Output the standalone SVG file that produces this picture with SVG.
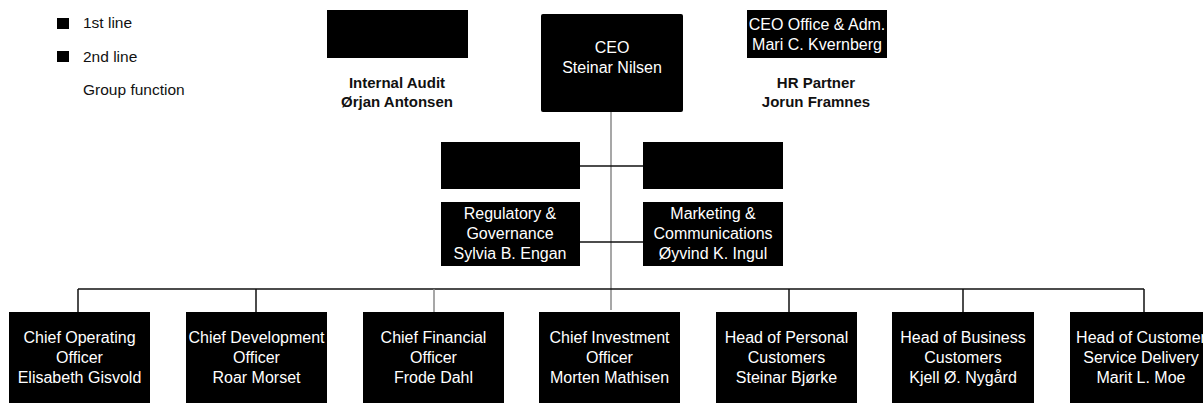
<svg xmlns="http://www.w3.org/2000/svg" width="1203" height="403" viewBox="0 0 1203 403">
<style>
.box{fill:#000}
.wt{font-family:"Liberation Sans",Arial,sans-serif;font-size:16px;fill:#fff;text-anchor:middle}
.bt{font-family:"Liberation Sans",Arial,sans-serif;font-size:15px;font-weight:bold;fill:#111;text-anchor:middle}
.lt{font-family:"Liberation Sans",Arial,sans-serif;font-size:15.5px;fill:#111}
.ln{stroke:#111;stroke-width:1.5;fill:none}
.gl{stroke:#8a8a8a;stroke-width:1.5;fill:none}
</style>
<rect width="1203" height="403" fill="#fff"/>
<g id="legend">
<rect x="57" y="18" width="12" height="11" fill="#000"/>
<text class="lt" x="83" y="28">1st line</text>
<rect x="57" y="51" width="12" height="11" fill="#000"/>
<text class="lt" x="83" y="62">2nd line</text>
<text class="lt" x="83" y="95">Group function</text>
</g>
<g id="connectors">
<line class="gl" x1="611" y1="112" x2="611" y2="310"/>
<line class="ln" x1="580" y1="166" x2="643" y2="166"/>
<line class="ln" x1="580" y1="242" x2="643" y2="242"/>
<line class="ln" x1="78" y1="289" x2="1144" y2="289"/>
<line class="ln" x1="78" y1="289" x2="78" y2="312"/>
<line class="ln" x1="256" y1="289" x2="256" y2="312"/>
<line class="gl" x1="434" y1="289" x2="434" y2="312"/>
<line class="ln" x1="789" y1="289" x2="789" y2="312"/>
<line class="ln" x1="963" y1="289" x2="963" y2="312"/>
<line class="ln" x1="1144" y1="289" x2="1144" y2="312"/>
</g>
<g id="internal-audit">
<rect class="box" x="327" y="10" width="141" height="48"/>
<text class="bt" x="397" y="88">Internal Audit</text>
<text class="bt" x="397" y="107">Ørjan Antonsen</text>
</g>
<g id="ceo">
<rect class="box" x="541" y="14" width="142" height="98" rx="2"/>
<text class="wt" x="612" y="53">CEO</text>
<text class="wt" x="612" y="73">Steinar Nilsen</text>
</g>
<g id="ceo-office">
<rect class="box" x="747" y="10" width="140" height="48"/>
<text class="wt" x="817" y="30">CEO Office &amp; Adm.</text>
<text class="wt" x="817" y="50">Mari C. Kvernberg</text>
<text class="bt" x="816" y="88">HR Partner</text>
<text class="bt" x="816" y="107">Jorun Framnes</text>
</g>
<g id="mid-left-top"><rect class="box" x="441" y="142" width="139" height="47"/></g>
<g id="mid-right-top"><rect class="box" x="643" y="142" width="140" height="47"/></g>
<g id="regulatory">
<rect class="box" x="441" y="202" width="139" height="64"/>
<text class="wt" x="510" y="219">Regulatory &amp;</text>
<text class="wt" x="510" y="239">Governance</text>
<text class="wt" x="510" y="259">Sylvia B. Engan</text>
</g>
<g id="marketing">
<rect class="box" x="643" y="202" width="140" height="64"/>
<text class="wt" x="713" y="219">Marketing &amp;</text>
<text class="wt" x="713" y="239">Communications</text>
<text class="wt" x="713" y="259">Øyvind K. Ingul</text>
</g>
<g id="coo">
<rect class="box" x="9" y="312" width="141" height="91"/>
<text class="wt" x="79.5" y="343">Chief Operating</text>
<text class="wt" x="79.5" y="363">Officer</text>
<text class="wt" x="79.5" y="383">Elisabeth Gisvold</text>
</g>
<g id="cdo">
<rect class="box" x="186" y="312" width="141" height="91"/>
<text class="wt" x="256.5" y="343">Chief Development</text>
<text class="wt" x="256.5" y="363">Officer</text>
<text class="wt" x="256.5" y="383">Roar Morset</text>
</g>
<g id="cfo">
<rect class="box" x="363" y="312" width="141" height="91"/>
<text class="wt" x="433.5" y="343">Chief Financial</text>
<text class="wt" x="433.5" y="363">Officer</text>
<text class="wt" x="433.5" y="383">Frode Dahl</text>
</g>
<g id="cio">
<rect class="box" x="539" y="312" width="141" height="91"/>
<text class="wt" x="609.5" y="343">Chief Investment</text>
<text class="wt" x="609.5" y="363">Officer</text>
<text class="wt" x="609.5" y="383">Morten Mathisen</text>
</g>
<g id="personal">
<rect class="box" x="716" y="312" width="141" height="91"/>
<text class="wt" x="786.5" y="343">Head of Personal</text>
<text class="wt" x="786.5" y="363">Customers</text>
<text class="wt" x="786.5" y="383">Steinar Bjørke</text>
</g>
<g id="business">
<rect class="box" x="892" y="312" width="142" height="91"/>
<text class="wt" x="963" y="343">Head of Business</text>
<text class="wt" x="963" y="363">Customers</text>
<text class="wt" x="963" y="383">Kjell Ø. Nygård</text>
</g>
<g id="service">
<rect class="box" x="1070" y="312" width="142" height="91"/>
<text class="wt" x="1141" y="343">Head of Customer</text>
<text class="wt" x="1141" y="363">Service Delivery</text>
<text class="wt" x="1141" y="383">Marit L. Moe</text>
</g>
</svg>
